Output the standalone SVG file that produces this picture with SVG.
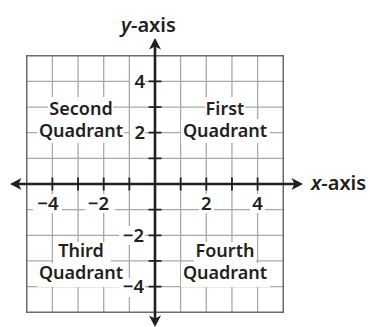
<svg xmlns="http://www.w3.org/2000/svg" width="370" height="327" viewBox="0 0 370 327">
<style>
.grid{stroke:#a9a9a9;stroke-width:1.3;fill:none}
.border{stroke:#6a6a6a;stroke-width:1.5;fill:none}
.axis{stroke:#231f20;stroke-width:2.6;fill:none}
.tick{stroke:#231f20;stroke-width:1.8}
.head{fill:#231f20}
.bg{fill:#fff}
text{font-family:"Noto Sans","Open Sans","DejaVu Sans",sans-serif;font-size:18px;font-weight:600;fill:#231f20}
.lbl{text-anchor:middle}
.num{font-size:18.5px}
.ax{font-size:20px}
</style>
<rect width="370" height="327" fill="#fff"/>
<g id="grid">
<path class="grid" d="M52.4 55.75V312.25M78.05 55.75V312.25M103.7 55.75V312.25M129.35 55.75V312.25M180.65 55.75V312.25M206.3 55.75V312.25M231.95 55.75V312.25M257.6 55.75V312.25M26.75 81.4H283.25M26.75 107.05H283.25M26.75 132.7H283.25M26.75 158.35H283.25M26.75 209.65H283.25M26.75 235.3H283.25M26.75 260.95H283.25M26.75 286.6H283.25"/>
<rect class="border" x="26.75" y="55.75" width="256.5" height="256.5"/>
</g>
<g id="label-backgrounds">
<rect class="bg" x="48" y="97" width="65" height="22"/>
<rect class="bg" x="37" y="119" width="87" height="24"/>
<rect class="bg" x="205" y="97" width="40" height="22"/>
<rect class="bg" x="181" y="119" width="89" height="24"/>
<rect class="bg" x="53" y="242" width="58" height="21"/>
<rect class="bg" x="37" y="263" width="87" height="24"/>
<rect class="bg" x="194" y="242" width="62" height="21"/>
<rect class="bg" x="181" y="263" width="89" height="24"/>
<rect class="bg" x="130" y="73" width="15" height="19"/>
<rect class="bg" x="130" y="124" width="15" height="19"/>
<rect class="bg" x="119" y="226" width="26" height="19"/>
<rect class="bg" x="119" y="278" width="26" height="19"/>
<rect class="bg" x="33" y="194" width="29" height="19"/>
<rect class="bg" x="85" y="194" width="30" height="19"/>
<rect class="bg" x="199" y="194" width="15" height="19"/>
<rect class="bg" x="250" y="194" width="15" height="19"/>
</g>
<g id="axes">
<path class="axis" d="M16 184H297M155 44V321"/>
<path class="tick" d="M52.4 177.5V190.5M78.05 177.5V190.5M103.7 177.5V190.5M129.35 177.5V190.5M180.65 177.5V190.5M206.3 177.5V190.5M231.95 177.5V190.5M257.6 177.5V190.5M148.5 81.4H161.5M148.5 107.05H161.5M148.5 132.7H161.5M148.5 158.35H161.5M148.5 209.65H161.5M148.5 235.3H161.5M148.5 260.95H161.5M148.5 286.6H161.5"/>
<path class="head" d="M303 184L291.5 178L294.5 184L291.5 190Z"/>
<path class="head" d="M10 184L21.5 178L18.5 184L21.5 190Z"/>
<path class="head" d="M155 38L149 49.5L155 46.5L161 49.5Z"/>
<path class="head" d="M155 327L149 315.5L155 318.5L161 315.5Z"/>
</g>
<g id="axis-labels">
<text class="ax" x="121" y="32"><tspan font-style="italic">y</tspan>-axis</text>
<text class="ax" x="311" y="190"><tspan font-style="italic">x</tspan>-axis</text>
</g>
<g id="tick-labels">
<text class="num" x="145" y="88" text-anchor="end">4</text>
<text class="num" x="145" y="139" text-anchor="end">2</text>
<text class="num" x="144" y="242" text-anchor="end">−2</text>
<text class="num" x="144" y="293" text-anchor="end">−4</text>
<text class="num" x="58.5" y="210" text-anchor="end">−4</text>
<text class="num" x="109" y="210" text-anchor="end">−2</text>
<text class="num lbl" x="206.3" y="210">2</text>
<text class="num lbl" x="257.6" y="210">4</text>
</g>
<g id="second-quadrant">
<text class="lbl" x="81" y="115">Second</text>
<text class="lbl" x="81" y="137">Quadrant</text>
</g>
<g id="first-quadrant">
<text class="lbl" x="225" y="115">First</text>
<text class="lbl" x="225" y="137">Quadrant</text>
</g>
<g id="third-quadrant">
<text class="lbl" x="81" y="257">Third</text>
<text class="lbl" x="81" y="279">Quadrant</text>
</g>
<g id="fourth-quadrant">
<text class="lbl" x="225" y="257">Fourth</text>
<text class="lbl" x="225" y="279">Quadrant</text>
</g>
</svg>
